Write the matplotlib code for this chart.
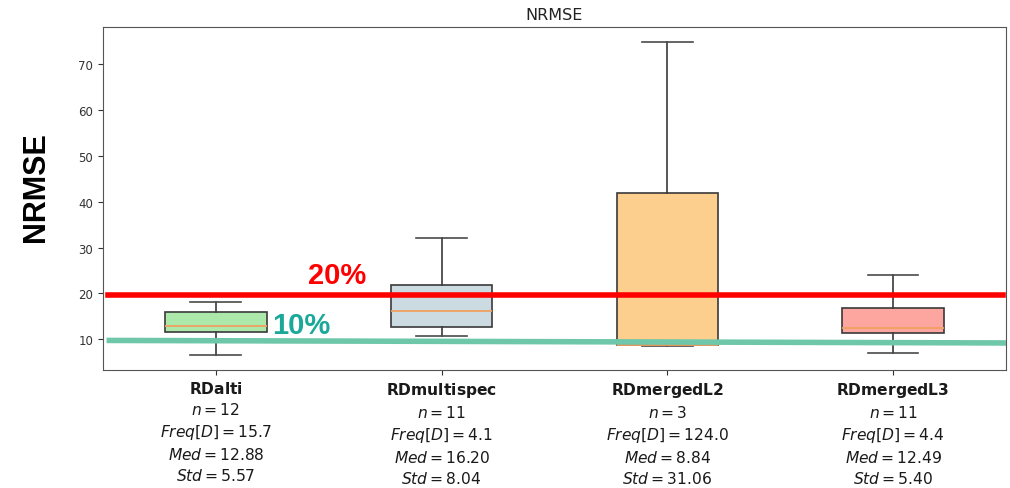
import matplotlib.pyplot as plt
from matplotlib.lines import Line2D

# per-method box statistics (NRMSE, %)
methods   = ["RDalti", "RDmultispec", "RDmergedL2", "RDmergedL3"]
whis_lo   = [6.5, 10.7, 8.6, 7.0]
q1        = [11.5, 12.6, 8.72, 11.3]
medians   = [12.88, 16.20, 8.84, 12.49]
q3        = [16.0, 21.9, 41.9, 16.8]
whis_hi   = [18.2, 32.1, 74.9, 24.1]

# summary text under each box
n_obs     = [12, 11, 3, 11]
freq_d    = ["15.7", "4.1", "124.0", "4.4"]
med_txt   = ["12.88", "16.20", "8.84", "12.49"]
std_txt   = ["5.57", "8.04", "31.06", "5.40"]

box_colors = ["#ade8ab", "#ccdae1", "#fdcf8f", "#fda59f"]

# threshold guides: (level at left end, level at right end)
red_level  = (19.7, 19.7)
teal_level = (9.75, 9.2)

stats = []
for i, name in enumerate(methods):
    stats.append({
        "label": name,
        "whislo": whis_lo[i], "q1": q1[i], "med": medians[i],
        "q3": q3[i], "whishi": whis_hi[i], "fliers": [],
    })

fig = plt.figure(figsize=(10.10, 4.89), dpi=100)
ax = fig.add_axes([0.102, 0.2413, 0.894, 0.7014])

bp = ax.bxp(stats, widths=0.45, patch_artist=True, showfliers=False,
            boxprops=dict(edgecolor="#3a3a3a", linewidth=1.2),
            whiskerprops=dict(color="#3a3a3a", linewidth=1.2),
            capprops=dict(color="#4a4a4a", linewidth=1.2),
            medianprops=dict(color="#f0a060", linewidth=1.3))
for patch, c in zip(bp["boxes"], box_colors):
    patch.set_facecolor(c)

ax.set_xlim(0.5, 4.5)
ax.set_ylim(3.3, 78.1)
ax.set_yticks([10, 20, 30, 40, 50, 60, 70])
ax.tick_params(axis="y", labelsize=8.5, colors="#333333")
ax.tick_params(axis="x", colors="#333333", pad=4)

labels = []
for i, name in enumerate(methods):
    labels.append(
        r"$\bf{%s}$" % name + "\n"
        + r"$n=%d$" % n_obs[i] + "\n"
        + r"$Freq[D]=%s$" % freq_d[i] + "\n"
        + r"$Med=%s$" % med_txt[i] + "\n"
        + r"$Std=%s$" % std_txt[i])
ax.set_xticks(range(1, len(methods) + 1))
ax.set_xticklabels(labels, fontsize=11.2, color="#1a1a1a", linespacing=1.36)

for spine in ax.spines.values():
    spine.set_color("#555555")

ax.set_title("NRMSE", fontsize=11.5, color="#222222", pad=6)

# threshold lines drawn over the boxes
ax.add_line(Line2D([0.005, 0.997], list(red_level), color="#ff0000", linewidth=4,
                   transform=ax.get_yaxis_transform(), zorder=5))
ax.add_line(Line2D([0.007, 0.998], list(teal_level), color="#6fc7aa", linewidth=4,
                   transform=ax.get_yaxis_transform(), zorder=5))
ax.text(1.41, red_level[0] + 2.6, "20%", color="#ff0000", fontsize=21,
        fontweight="bold", family="Liberation Sans", zorder=6)
ax.text(1.25, 11.4, "10%", color="#1aa898", fontsize=21,
        fontweight="bold", family="Liberation Sans", zorder=6)

fig.text(0.036, 0.617, "NRMSE", rotation=90, fontsize=22, fontweight="bold",
         family="Liberation Sans", ha="center", va="center")

fig.savefig("out.png", dpi=100)
